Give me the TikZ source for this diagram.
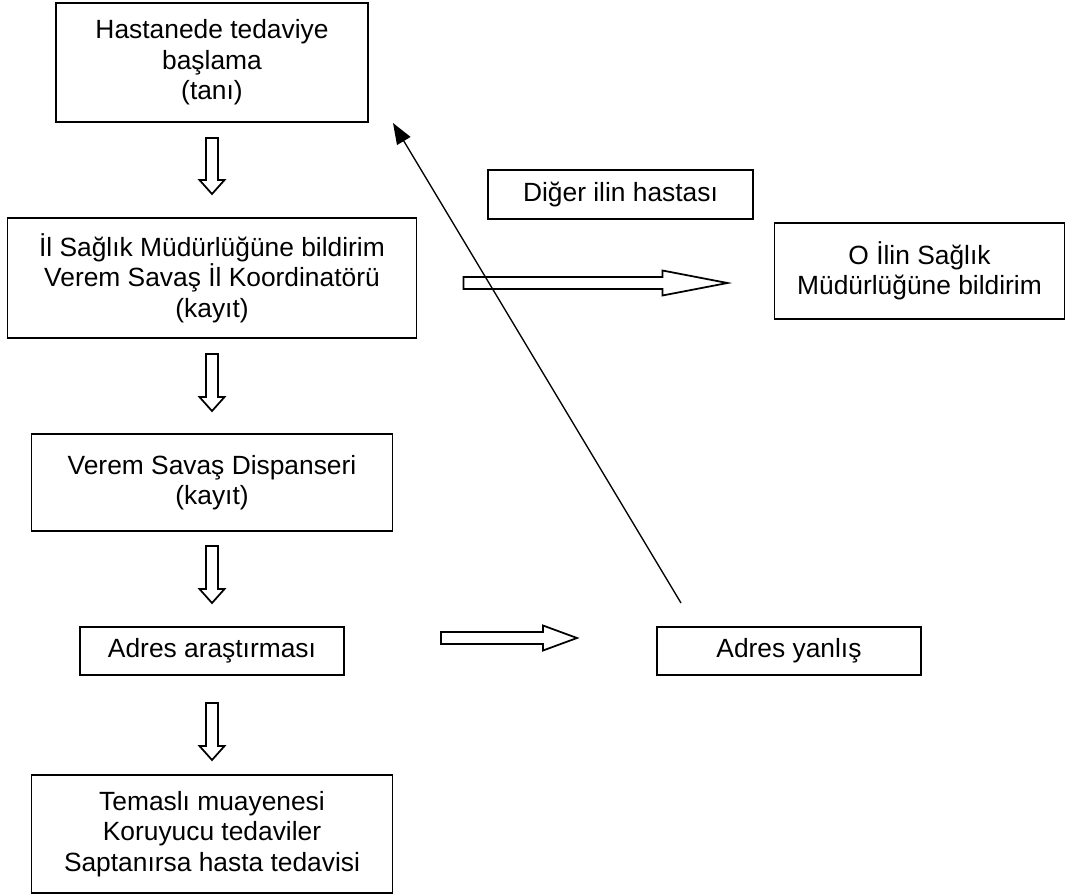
\documentclass[tikz,border=0pt]{standalone}
\usepackage{fontspec}
\setmainfont{Liberation Sans}
\usetikzlibrary{positioning,calc,arrows.meta}

\tikzset{
  hollow/.style={fill=white, line width=1pt, line join=miter, to path={
    ($(\tikztotarget)!#1!(\tikztostart)$) coordinate (hb)
    ($(\tikztostart)!0.12cm!90:(\tikztotarget)$) -- ($(hb)!0.12cm!-90:(\tikztostart)$)
    -- ($(hb)!0.25cm!-90:(\tikztostart)$) -- (\tikztotarget)
    -- ($(hb)!0.25cm!90:(\tikztostart)$) -- ($(hb)!0.12cm!90:(\tikztostart)$)
    -- ($(\tikztostart)!0.12cm!-90:(\tikztotarget)$) -- cycle}}
}

\begin{document}
\begin{tikzpicture}[box/.style = {draw, line width=1pt, outer sep=0pt, align=center, font=\fontsize{15}{17.4}\selectfont}]
\useasboundingbox (0,0) rectangle (21.32,-17.92);
\node[box, minimum width=6.24cm, minimum height=2.38cm] (hastane) at (4.24,-1.25) {Hastanede tedaviye\\başlama\\(tanı)};
\node[box, minimum width=8.18cm, minimum height=2.4cm] (ilsaglik) [below=1.92cm of hastane] {İl Sağlık Müdürlüğüne bildirim\\Verem Savaş İl Koordinatörü\\(kayıt)};
\node[box, minimum width=7.22cm, minimum height=1.94cm] (dispanser) [below=1.92cm of ilsaglik] {Verem Savaş Dispanseri\\(kayıt)};
\node[box, minimum width=5.28cm, minimum height=0.96cm] (adres) [below=1.92cm of dispanser] {Adres araştırması};
\node[box, minimum width=7.22cm, minimum height=2.36cm] (temasli) [below=2cm of adres] {Temaslı muayenesi\\Koruyucu tedaviler\\Saptanırsa hasta tedavisi};
\node[box, minimum width=5.3cm, minimum height=0.98cm] (diger) at (12.41,-3.89) {Diğer ilin hastası};
\node[box, minimum width=5.8cm, minimum height=1.92cm] (oilin) [right=7.16cm of ilsaglik, yshift=0.14cm] {O İlin Sağlık\\Müdürlüğüne bildirim};
\node[box, minimum width=5.28cm, minimum height=0.96cm] (yanlis) [right=6.26cm of adres] {Adres yanlış};

% block arrow ends
\coordinate (d1a) at ([yshift=-0.32cm]hastane.south);
\coordinate (d1b) at ([yshift=0.48cm]ilsaglik.north);
\coordinate (d2a) at ([yshift=-0.32cm]ilsaglik.south);
\coordinate (d2b) at ([yshift=0.46cm]dispanser.north);
\coordinate (d3a) at ([yshift=-0.3cm]dispanser.south);
\coordinate (d3b) at ([yshift=0.48cm]adres.north);
\coordinate (d4a) at ([yshift=-0.56cm]adres.south);
\coordinate (d4b) at ([yshift=0.3cm]temasli.north);
\coordinate (r1a) at ([xshift=0.94cm, yshift=-0.1cm]ilsaglik.east);
\coordinate (r1b) at ([xshift=-0.94cm, yshift=-0.24cm]oilin.west);
\coordinate (r2a) at ([xshift=1.94cm, yshift=0.26cm]adres.east);
\coordinate (r2b) at ([xshift=-1.6cm, yshift=0.26cm]yanlis.west);

\draw[hollow=0.28cm] (d1a) to (d1b);
\draw[hollow=0.28cm] (d2a) to (d2b);
\draw[hollow=0.28cm] (d3a) to (d3b);
\draw[hollow=0.28cm] (d4a) to (d4b);
\draw[hollow=1.3cm] (r1a) to (r1b);
\draw[hollow=0.68cm] (r2a) to (r2b);
\draw[line width=0.75pt, -{Triangle[length=0.42cm, width=0.31cm]}] ([xshift=0.48cm, yshift=0.48cm]yanlis.north west) -- ([xshift=0.5cm, yshift=-0.02cm]hastane.south east);
\end{tikzpicture}
\end{document}
